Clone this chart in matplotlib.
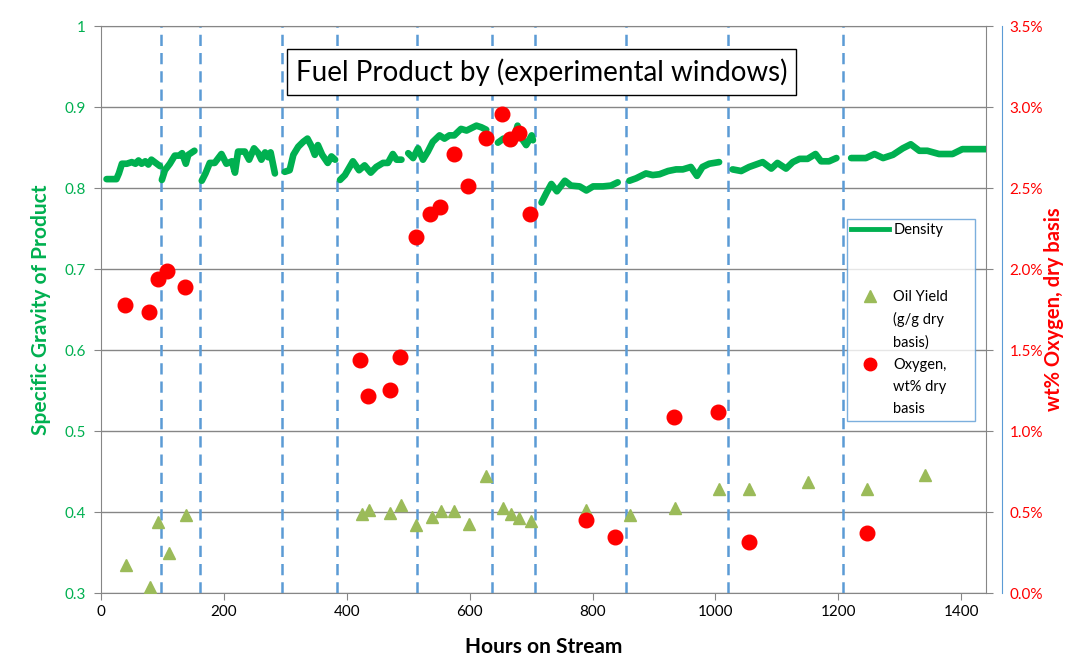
import numpy as np
import matplotlib.pyplot as plt
from matplotlib.ticker import FuncFormatter
from matplotlib.lines import Line2D

plt.rcParams['font.family'] = ['Lato', 'DejaVu Sans']

nan = np.nan

# density trace, NaN separates the experimental windows
density_hours = [9, 25, 29, 34, 42, 50, 56, 61, 66, 72, 77, 82, 89, 96, nan,
                 99, 104, 112, 120, 127, 132, 138, 142, 152, nan,
                 164, 170, 177, 185, 196, 204, 213, 218, 223, 234, 241, 249, 256, 261, 267, 272, 276, 283, nan,
                 299, 307, 313, 321, 329, 336, 343, 348, 353, 360, 369, 375, 381, nan,
                 389, 397, 410, 420, 429, 439, 448, 459, 467, 475, 481, 489, nan,
                 500, 508, 516, 524, 532, 540, 551, 559, 567, 575, 586, 595, 603, 611, 619, 627, nan,
                 646, 655, 662, 670, 678, 685, 692, 701, 703, nan,
                 717, 725, 733, 742, 755, 765, 779, 790, 801, 817, 830, 841, nan,
                 860, 871, 887, 898, 909, 923, 936, 947, 960, 970, 979, 990, 1006, nan,
                 1028, 1042, 1055, 1077, 1091, 1101, 1115, 1126, 1137, 1150, 1163, 1172, 1185, 1197, nan,
                 1221, 1245, 1259, 1273, 1289, 1305, 1318, 1332, 1345, 1364, 1386, 1402, 1440]
density_sg = [0.811, 0.811, 0.818, 0.830, 0.830, 0.832, 0.830, 0.834, 0.830, 0.833, 0.829, 0.835, 0.831, 0.827, nan,
              0.810, 0.822, 0.830, 0.840, 0.840, 0.843, 0.830, 0.841, 0.846, nan,
              0.809, 0.818, 0.831, 0.831, 0.842, 0.830, 0.833, 0.819, 0.845, 0.845, 0.835, 0.849, 0.843, 0.835, 0.844, 0.838, 0.844, 0.818, nan,
              0.820, 0.822, 0.841, 0.851, 0.857, 0.861, 0.851, 0.841, 0.853, 0.841, 0.831, 0.839, 0.835, nan,
              0.810, 0.816, 0.833, 0.822, 0.828, 0.819, 0.826, 0.831, 0.831, 0.842, 0.835, 0.835, nan,
              0.843, 0.837, 0.849, 0.835, 0.845, 0.857, 0.865, 0.861, 0.865, 0.865, 0.873, 0.871, 0.874, 0.877, 0.875, 0.872, nan,
              0.856, 0.861, 0.859, 0.855, 0.877, 0.861, 0.853, 0.865, 0.859, nan,
              0.782, 0.794, 0.805, 0.796, 0.809, 0.803, 0.802, 0.797, 0.802, 0.802, 0.803, 0.807, nan,
              0.809, 0.812, 0.818, 0.816, 0.817, 0.821, 0.823, 0.823, 0.826, 0.815, 0.826, 0.830, 0.832, nan,
              0.823, 0.821, 0.826, 0.832, 0.824, 0.831, 0.824, 0.832, 0.836, 0.836, 0.842, 0.833, 0.833, 0.837, nan,
              0.837, 0.837, 0.842, 0.837, 0.841, 0.849, 0.854, 0.846, 0.846, 0.842, 0.842, 0.848, 0.848]

yield_hours = [41, 79, 93, 110, 138, 424, 436, 470, 489, 513, 538, 554, 574, 599, 627,
               654, 668, 680, 700, 790, 861, 935, 1006, 1055, 1151, 1247, 1342]
yield_gg = [0.335, 0.307, 0.388, 0.350, 0.396, 0.398, 0.403, 0.399, 0.409, 0.384, 0.394, 0.401, 0.401, 0.385, 0.444,
            0.405, 0.398, 0.393, 0.389, 0.402, 0.396, 0.405, 0.429, 0.428, 0.437, 0.429, 0.446]

oxygen_hours = [39, 78, 92, 108, 137, 422, 435, 470, 487, 513, 536, 552, 574, 597, 626,
                653, 666, 680, 699, 789, 837, 933, 1005, 1054, 1246]
oxygen_pct = [1.78, 1.735, 1.94, 1.99, 1.89, 1.44, 1.216, 1.253, 1.457, 2.20, 2.34, 2.385, 2.71, 2.51, 2.81,
              2.96, 2.80, 2.84, 2.34, 0.45, 0.347, 1.086, 1.12, 0.317, 0.372]

window_edges = [98, 161, 294, 384, 515, 637, 707, 854, 1021, 1208]

GREEN = '#00B050'
OLIVE = '#9BBB59'
RED = '#FF0000'
BLUE = '#5B9BD5'
GREY = '#868686'

fig = plt.figure(figsize=(10.67, 6.64), dpi=100)
ax = fig.add_axes([0.0947, 0.1069, 0.8291, 0.8539])
ax2 = ax.twinx()

ax.set_xlim(0, 1440)
ax.set_ylim(0.3, 1.0)
ax2.set_ylim(0, 3.5)

ax.set_yticks(np.arange(0.3, 1.01, 0.1))
ax.yaxis.set_major_formatter(FuncFormatter(lambda v, p: f'{v:g}' if v < 0.999 else '1'))
ax.set_xticks(range(0, 1401, 200))
ax2.set_yticks(np.arange(0, 3.51, 0.5))
ax2.yaxis.set_major_formatter(FuncFormatter(lambda v, p: f'{v:.1f}%'))

ax.grid(axis='y', color=GREY, lw=1)
ax.set_axisbelow(True)
for s in ax.spines.values():
    s.set_color(GREY)
for name in ['left', 'top', 'bottom']:
    ax2.spines[name].set_visible(False)
ax2.spines['right'].set_position(('outward', 12))
ax2.spines['right'].set_color(BLUE)

ax.tick_params(axis='y', colors=GREY, labelcolor=GREEN, labelsize=11, length=5, right=True, pad=6)
ax.tick_params(axis='x', colors=GREY, labelcolor='black', labelsize=11, length=5)
ax2.tick_params(axis='y', length=0, labelcolor=RED, labelsize=11, pad=5)

for x in window_edges:
    ax.axvline(x, color=BLUE, lw=1.8, ls=(0, (4.5, 2.8)), zorder=2)

ax.plot(density_hours, density_sg, color=GREEN, lw=4.8, solid_capstyle='round',
        solid_joinstyle='round', zorder=3)
ax.plot(yield_hours, yield_gg, ls='none', marker='^', ms=9, color=OLIVE, zorder=4)
ax2.plot(oxygen_hours, oxygen_pct, ls='none', marker='o', ms=10.5, color=RED, zorder=4)

ax.set_xlabel('Hours on Stream', fontsize=15, fontweight='bold', labelpad=13)
ax.set_ylabel('Specific Gravity of Product', fontsize=15, fontweight='bold', color=GREEN, labelpad=10)
ax2.set_ylabel('wt% Oxygen, dry basis', fontsize=14.5, fontweight='bold', color=RED, labelpad=1)

ax2.text(0.498, 0.919, 'Fuel Product by (experimental windows)', transform=ax.transAxes,
         ha='center', va='center', fontsize=20,
         bbox=dict(boxstyle='square,pad=0.32', fc='white', ec='black', lw=1))

blank = Line2D([], [], ls='none')
handles = [Line2D([], [], color=GREEN, lw=3.5), blank, blank,
           Line2D([], [], ls='none', marker='^', ms=9, color=OLIVE), blank, blank,
           Line2D([], [], ls='none', marker='o', ms=9, color=RED), blank, blank]
labels = ['Density', ' ', ' ', 'Oil Yield', '(g/g dry', 'basis)', 'Oxygen,', 'wt% dry', 'basis']
leg = ax2.legend(handles, labels, loc='upper left', bbox_to_anchor=(0.843, 0.3086, 0.1446, 0.351),
                 mode='expand', fontsize=10.5, frameon=True, fancybox=False, labelspacing=0.56,
                 handlelength=2.6, handletextpad=0.3, borderpad=0.3, borderaxespad=0)
leg.get_frame().set_edgecolor(BLUE)
leg.get_frame().set_linewidth(1)

fig.savefig('out.png', dpi=100)
